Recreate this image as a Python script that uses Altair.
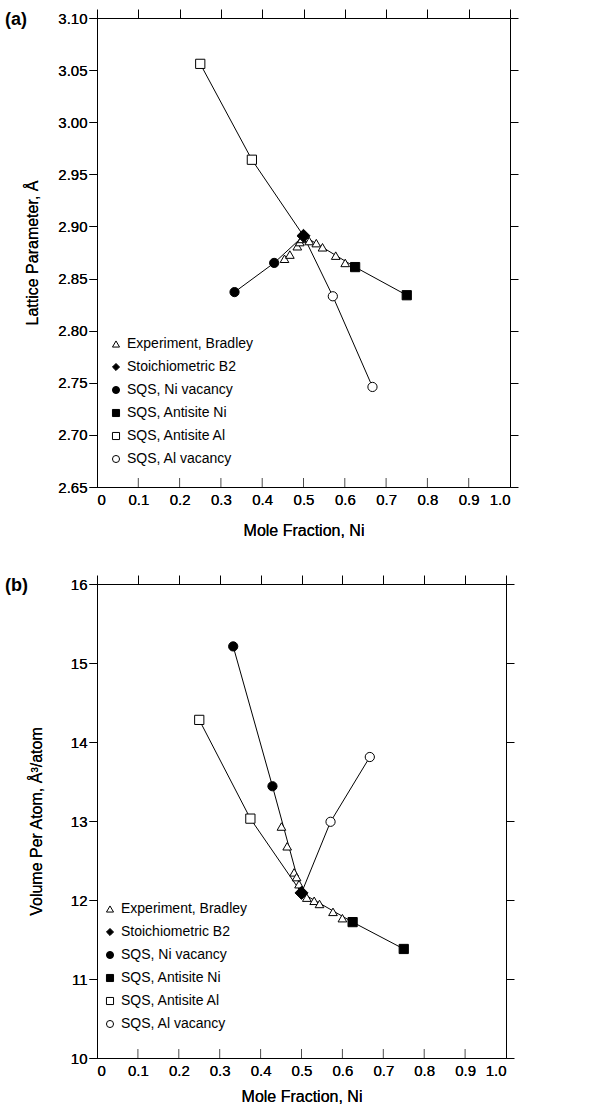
import altair as alt
import pandas as pd

FONT = "Liberation Sans"

series_names = ["Experiment, Bradley", "Stoichiometric B2", "SQS, Ni vacancy",
                "SQS, Antisite Ni", "SQS, Antisite Al", "SQS, Al vacancy"]
series_shapes = ["triangle-up", "diamond", "circle", "square", "square", "circle"]
series_fills = ["white", "black", "black", "black", "white", "white"]
series_strokes = ["black"] * 6

x_ticks = [0, 0.1, 0.2, 0.3, 0.4, 0.5, 0.6, 0.7, 0.8, 0.9, 1.0]

# ---- panel (a): lattice parameter ----
a_exp_x = [0.454, 0.467, 0.485, 0.491, 0.496, 0.514, 0.531, 0.546, 0.578, 0.601]
a_exp_y = [2.869, 2.873, 2.881, 2.885, 2.888, 2.886, 2.884, 2.880, 2.872, 2.865]
a_stoich_x = [0.5]
a_stoich_y = [2.891]
a_nivac_x = [0.333, 0.429]
a_nivac_y = [2.837, 2.865]
a_antini_x = [0.625, 0.75]
a_antini_y = [2.861, 2.834]
a_antial_x = [0.25, 0.375]
a_antial_y = [3.056, 2.964]
a_alvac_x = [0.571, 0.667]
a_alvac_y = [2.833, 2.746]
a_y_ticks = [2.65, 2.70, 2.75, 2.80, 2.85, 2.90, 2.95, 3.00, 3.05, 3.10]

# ---- panel (b): volume per atom ----
b_exp_x = [0.451, 0.465, 0.482, 0.488, 0.494, 0.513, 0.531, 0.544, 0.577, 0.600]
b_exp_y = [12.93, 12.68, 12.35, 12.29, 12.20, 12.03, 11.99, 11.95, 11.85, 11.77]
b_stoich_x = [0.5]
b_stoich_y = [12.09]
b_nivac_x = [0.333, 0.429]
b_nivac_y = [15.21, 13.44]
b_antini_x = [0.625, 0.75]
b_antini_y = [11.72, 11.38]
b_antial_x = [0.25, 0.375]
b_antial_y = [14.28, 13.03]
b_alvac_x = [0.571, 0.667]
b_alvac_y = [12.99, 13.81]
b_y_ticks = [10, 11, 12, 13, 14, 15, 16]


def build_frames(exp, stoich, nivac, antini, antial, alvac):
    pts = []
    for name, (xs, ys) in zip(series_names, [exp, stoich, nivac, antini, antial, alvac]):
        for xv, yv in zip(xs, ys):
            pts.append({"x": xv, "y": yv, "series": name})
    lines = []
    for name, (xs, ys) in zip(series_names[2:], [nivac, antini, antial, alvac]):
        for xv, yv in zip(list(xs) + stoich[0], list(ys) + stoich[1]):
            lines.append({"x": xv, "y": yv, "branch": name})
    return pd.DataFrame(pts), pd.DataFrame(lines)


def panel(frames, y_ticks, y_fmt, y_title, label, label_dx, width, height,
          y_title_pad, x_label_pad, x_title_pad, legend_xy):
    pts, lines = frames
    xs = alt.Scale(domain=[0, 1], nice=False, zero=False)
    ys = alt.Scale(domain=[y_ticks[0], y_ticks[-1]], nice=False, zero=False)

    bottom_axis = alt.Axis(orient="bottom", values=x_ticks, ticks=False, tickSize=0,
                           labelPadding=x_label_pad,
                           labelExpr="datum.value == 0 ? '0' : format(datum.value, '.1f')",
                           title="Mole Fraction, Ni", titlePadding=x_title_pad)
    top_axis = alt.Axis(orient="top", values=x_ticks, labels=False, tickSize=9, title=None)
    left_axis = alt.Axis(orient="left", values=y_ticks, format=y_fmt, tickSize=8,
                         labelPadding=2, title=y_title, titlePadding=y_title_pad)
    right_axis = alt.Axis(orient="right", values=y_ticks, labels=False, tickSize=8, title=None)

    line_layer = alt.Chart(lines).mark_line(color="black", strokeWidth=1).encode(
        x=alt.X("x:Q", scale=xs, axis=bottom_axis),
        y=alt.Y("y:Q", scale=ys, axis=left_axis),
        detail="branch:N",
    )

    leg = alt.Legend(orient="none", legendX=legend_xy[0], legendY=legend_xy[1], title=None,
                     labelFont=FONT, labelFontSize=14, labelColor="black", labelLimit=300,
                     symbolStrokeWidth=1, symbolSize=50, rowPadding=9, labelOffset=4,
                     padding=0)
    size_rule = alt.when(alt.datum.series == series_names[1]).then(alt.value(170)).when(
        alt.datum.series == series_names[0]).then(alt.value(75)).otherwise(alt.value(85))
    point_layer = alt.Chart(pts).mark_point(filled=True, strokeWidth=1, opacity=1).encode(
        x=alt.X("x:Q", scale=xs, axis=top_axis),
        y=alt.Y("y:Q", scale=ys, axis=right_axis),
        shape=alt.Shape("series:N", scale=alt.Scale(domain=series_names, range=series_shapes),
                        legend=leg),
        fill=alt.Fill("series:N", scale=alt.Scale(domain=series_names, range=series_fills),
                      legend=leg),
        stroke=alt.Stroke("series:N", scale=alt.Scale(domain=series_names, range=series_strokes),
                          legend=leg),
        size=size_rule,
    )

    tick_df = pd.DataFrame({"x": x_ticks[1:-1], "y": [y_ticks[0]] * (len(x_ticks) - 2)})
    tick_layer = alt.Chart(tick_df).mark_tick(orient="vertical", size=9, thickness=1,
                                              color="black", yOffset=-4.5).encode(
        x=alt.X("x:Q", scale=xs, axis=bottom_axis),
        y=alt.Y("y:Q", scale=ys, axis=left_axis),
    )

    return alt.layer(line_layer, tick_layer, point_layer).properties(
        width=width, height=height,
        title=alt.TitleParams(label, anchor="start", frame="group", font=FONT, fontSize=18,
                              fontWeight="bold", color="black", dx=label_dx, offset=-20),
    )


top = panel(build_frames((a_exp_x, a_exp_y), (a_stoich_x, a_stoich_y), (a_nivac_x, a_nivac_y),
                         (a_antini_x, a_antini_y), (a_antial_x, a_antial_y),
                         (a_alvac_x, a_alvac_y)),
            a_y_ticks, ".2f", "Lattice Parameter, Å", "(a)", -92, 413, 469, 17, 5, 15.5,
            (12, 319))
bottom = panel(build_frames((b_exp_x, b_exp_y), (b_stoich_x, b_stoich_y), (b_nivac_x, b_nivac_y),
                            (b_antini_x, b_antini_y), (b_antial_x, b_antial_y),
                            (b_alvac_x, b_alvac_y)),
               b_y_ticks, "d", "Volume Per Atom, Å³/atom", "(b)", -92, 409, 474, 26, 5, 10.5,
               (6, 318))

chart = alt.vconcat(top, bottom, spacing=35).resolve_scale(
    shape="independent", fill="independent", stroke="independent"
).properties(
    padding={"left": 5, "top": 8, "right": 5, "bottom": 0}, background="white"
).configure_view(stroke=None).configure_axis(
    grid=False, domainColor="black", tickColor="black", labelColor="black", titleColor="black",
    labelFont=FONT, titleFont=FONT, labelFontSize=15, titleFontSize=16, titleFontWeight="normal",
    domainWidth=1, tickWidth=1,
)

chart.save("out.html", embed_options={"renderer": "svg", "actions": False})
